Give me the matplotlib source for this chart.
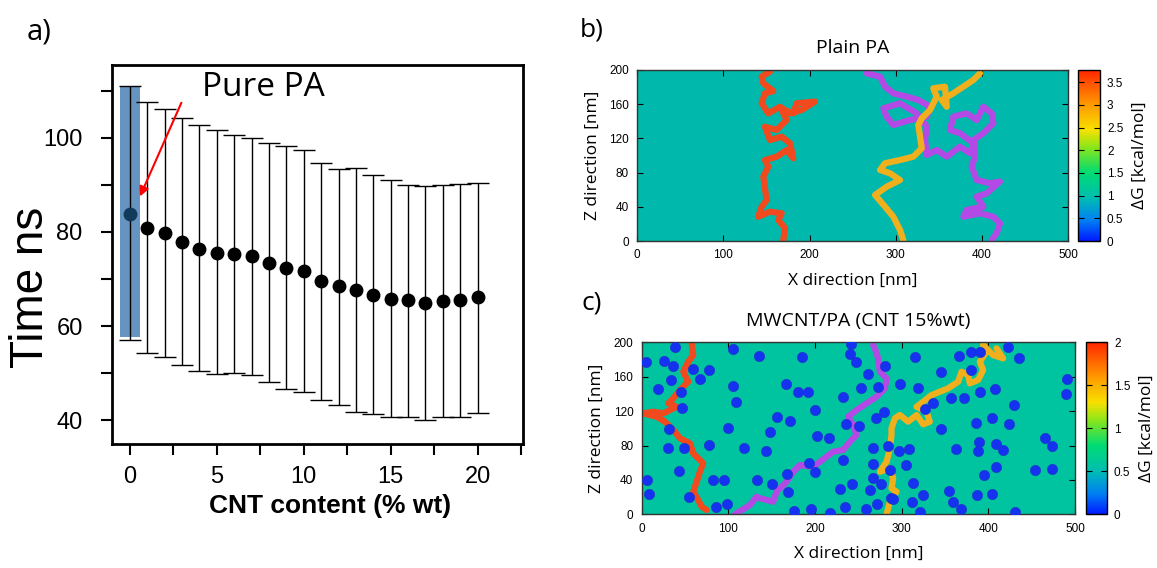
import matplotlib
matplotlib.use('Agg')
import matplotlib.pyplot as plt
import matplotlib.colors as mcolors
import matplotlib.cm as cm

# panel a data
cnt = list(range(0, 21))
time_mean = [83.9, 80.8, 79.7, 77.8, 76.4, 75.6, 75.3, 74.8, 73.5, 72.4, 71.8,
             69.6, 68.5, 67.7, 66.7, 65.8, 65.5, 65.0, 65.4, 65.6, 66.1]
time_upper = [111.1, 107.6, 106.1, 104.3, 102.8, 101.6, 100.7, 99.9, 99.0, 98.3, 97.4,
              94.7, 93.3, 93.6, 92.1, 91.0, 89.9, 89.8, 90.0, 90.1, 90.4]
time_lower = [57.1, 54.2, 53.5, 51.7, 50.4, 49.8, 50.0, 49.7, 48.1, 46.7, 46.0,
              44.2, 43.2, 41.8, 41.3, 40.6, 40.7, 40.0, 40.6, 40.7, 41.6]

# panel b paths (x nm, z nm)
b_red_x = [169.5, 171.5, 163.7, 167.6, 154, 140.5, 144.4, 150.2, 148.2, 146.3, 152.1, 148.2,
           161.8, 173.4, 181.1, 177.3, 167.6, 154, 148.2, 161.8, 173.4, 167.6, 181.1, 185,
           206.3, 190.8, 177.3, 165.7, 152.1, 144.4, 148.2, 157.9, 146.3, 144.4, 154]
b_red_z = [1.2, 14.9, 24.6, 32.4, 34.3, 28.4, 40.1, 47.9, 61.6, 75.2, 86.9, 94.7,
           98.6, 106.4, 96.7, 114.3, 122, 118.1, 133.7, 129.8, 141.5, 153.2, 149.3, 161,
           163, 153.2, 149.3, 157, 149.3, 161, 172.7, 175.4, 184.4, 192.2, 198]
b_yel_x = [308.8, 305, 297.2, 287.6, 276, 289.5, 305, 293.4, 281.8, 287.6, 305, 320.4,
           330.2, 328.2, 326.2, 330.2, 339.8, 347.6, 343.6, 357.2, 359.2, 353.4, 366.8,
           378.5, 390.1, 397.8]
b_yel_z = [1.2, 12.9, 28.4, 40.1, 53.8, 63.5, 71.3, 79.2, 83, 90.9, 94.7, 98.6,
           108.4, 122, 135.7, 143.5, 153.2, 168.8, 178.6, 180.5, 157, 164.9, 172.7,
           180.5, 188.3, 196.1]
b_pur_x = [266.3, 281.8, 287.6, 297.2, 312.7, 326.2, 339.8, 336, 316.6, 297.2, 289.5, 285.6,
           305, 324.4, 336, 334, 336, 347.6, 359.2, 374.6, 386.2, 390.1, 374.6, 363, 366.8,
           382.4, 394, 401.7, 411.4, 413.3, 401.7, 390.1, 392, 388.2, 394, 409.4, 421,
           405.6, 394, 401.7, 382.4, 378.5, 397.8, 413.3, 421, 417.2, 411.4]
b_pur_z = [196.1, 192.2, 180.5, 172.7, 168.8, 164.9, 157, 145.4, 141.5, 135.7, 145.4, 155.2,
           161, 149.3, 133.7, 118.1, 100.6, 106.4, 98.6, 110.3, 102.6, 114.3, 126, 129.8, 145.4,
           149.3, 141.5, 157, 149.3, 137.7, 126, 118.1, 98.6, 86.9, 71.3, 67.5, 69.4,
           55.8, 51.8, 40.1, 36.3, 28.4, 32.4, 28.4, 20.7, 9, 1.2]

# panel c paths
c_red_x = [75, 69.2, 65.3, 59.5, 63.4, 67.2, 71, 59.5, 55.7, 44.2, 38.4, 26.9, 17.3, 1.8,
           13.4, 24.9, 40.4, 30.7, 36.4, 44.2, 53.7, 48, 53.7, 59.5, 57.7]
c_red_z = [5, 8.8, 16.6, 26.3, 37.9, 49.5, 59.3, 70.9, 82.6, 88.4, 96, 107.7, 113.5, 117.4,
           119.3, 117.4, 125.1, 129.1, 134.9, 144.5, 154.2, 165.8, 177.4, 185.2, 198.8]
c_pur_x = [107.6, 124.9, 132.6, 136.4, 151.8, 155.7, 167.2, 174.9, 182.6, 197.9, 208.3, 221,
           232.5, 240.3, 248, 244, 238.3, 248, 259.5, 271, 280.6, 282.6, 274.9, 272.9, 269.1, 267.1]
c_pur_z = [0, 10.8, 20.5, 18.6, 14.7, 26.3, 37.9, 49.5, 57.3, 55.3, 63.1, 72.8,
           74.8, 84.4, 92.2, 103.8, 113.5, 121.3, 129.1, 136.7, 146.5, 158.1, 165.8, 181.4, 193, 196.9]
c_yel_x = [282.6, 286.4, 294.1, 288.3, 290.2, 286.4, 274.9, 282.6, 286.4, 288.3, 288.3, 292.2,
           297.9, 307.5, 317.2, 324.8, 332.5, 328.7, 317.2, 324.8, 334.5, 344.1, 353.6, 365.2,
           369.1, 376.7, 378.7, 388.2, 394, 390.2, 397.9, 394, 405.5, 417.1, 409.5]
c_yel_z = [0, 14.7, 26.3, 30.2, 41.9, 53.5, 49.5, 61.2, 76.7, 92.2, 100, 111.6,
           115.5, 107.7, 115.5, 104.7, 107.7, 119.3, 125.1, 130.9, 138.7, 142.6, 146.5, 154.2,
           165.8, 162, 152.3, 156.2, 167.8, 177.4, 189.1, 196.9, 185.2, 181.4, 193]

# CNT positions in panel c
cnt_x = [38.4, 4.6, 26.1, 36.5, 59.6, 78, 33.4, 67.3, 18.8, 45, 46.1, 31.1, 30, 48.8, 77.3,
         43, 6.5, 82.2, 94.9, 8.8, 54.9, 85.7, 98.8, 105, 105.7, 108.8, 99.5, 118, 135, 132.6,
         184.5, 241, 240.3, 247.2, 281, 166.1, 180.6, 192.2, 261.4, 252.6, 272.9, 232.2, 199.5,
         156.4, 171, 279.5, 270.2, 235.6, 251, 148, 202.2, 216.4, 143.4, 267.1, 284, 232.5,
         193.3, 267.1, 168, 200.2, 267.1, 150.3, 229.1, 242.9, 263.3, 276, 168.7, 287.2, 271,
         176, 194.9, 216.8, 234.5, 258.7, 286,
         315.2, 366, 379.5, 390.5, 422.8, 435.5, 344.9, 379.5, 297.9, 318.7, 390.2, 407.2,
         356.7, 372.5, 335.6, 327.1, 429.4, 404, 385.6, 423.6, 345.2, 389.4, 408.7, 362.9,
         387.9, 416.4, 297.1, 308, 304.5, 395.2, 408.7, 313.3, 354.4, 404.4, 386.7, 290.2,
         312.1, 324.8, 359.4, 368.3, 321, 430.9,
         490.9, 489.7, 465.5, 474, 454.4, 473.6]
cnt_z = [194.2, 177.5, 178.3, 172.4, 169, 168.1, 156.5, 157, 145.7, 141.9, 123.3, 99.2, 76.7,
         77.4, 81, 50.3, 39.9, 39.9, 39.9, 23.2, 20.5, 8.1, 12.3, 192.2, 149.5, 130.9, 100.7,
         77.4, 183.7, 39.5,
         182.9, 197.7, 186.4, 176.7, 172.4, 151.2, 141.9, 142.6, 163.5, 147.2, 147.6, 136.7,
         120.9, 112.8, 108.5, 118.9, 111.6, 105.3, 103, 96, 91.4, 88.7, 73.6, 77.1, 79.4, 62.8,
         59.7, 58.1, 46.9, 49.2, 42.6, 35.6, 29.4, 34.9, 28.6, 34.9, 25.6, 18.6, 11.6,
         4.2, 5.8, 1.5, 8.1, 6.2, 51.5,
         182.9, 184.1, 188.4, 189.1, 194.9, 182.1, 165.8, 168.1, 151.5, 147.2, 141.9, 145.3,
         134.9, 135.6, 129, 122.4, 126.7, 112, 106.2, 104.6, 99.5, 84.4, 81.4, 75.6,
         73.3, 74.4, 73.6, 75.6, 57, 45.3, 54.7, 36.7, 27.1, 23.6, 22.4, 18.4,
         14.7, 22.4, 13.8, 5.8, 3, 3,
         157.7, 140.2, 89.1, 79.4, 51.2, 52.7]

dg_cmap = mcolors.LinearSegmentedColormap.from_list('dg', [
    (0.0, (0.0, 0.1, 1.0)), (0.12, (0.0, 0.5, 0.95)), (0.25, (0.0, 0.74, 0.70)),
    (0.40, (0.0, 0.86, 0.45)), (0.55, (0.55, 0.9, 0.1)), (0.65, (0.97, 0.88, 0.0)),
    (0.80, (1.0, 0.6, 0.0)), (1.0, (1.0, 0.15, 0.0))])

fig = plt.figure(figsize=(11.57, 5.68), dpi=100)

# ---- panel a
ax = fig.add_axes([0.0967, 0.2180, 0.3557, 0.6669])
ax.bar(0, time_upper[0] - 57.6, bottom=57.6, width=1.12, color='#5589bb', alpha=0.9, zorder=1)
yerr = [[m - l for m, l in zip(time_mean, time_lower)], [u - m for m, u in zip(time_mean, time_upper)]]
ax.errorbar(cnt, time_mean, yerr=yerr, fmt='none', ecolor='black', elinewidth=1.0,
            capsize=8, capthick=1.0, zorder=2)
ax.plot(cnt[1:], time_mean[1:], 'o', color='black', ms=9, zorder=3)
ax.plot(cnt[0], time_mean[0], 'o', color='#123a5a', ms=9, zorder=3)
ax.set_xlim(-1.03, 22.63)
ax.set_ylim(34.9, 115.4)
ax.set_xticks([0, 5, 10, 15, 20])
ax.set_xticks([2.5, 7.5, 12.5, 17.5, 22.5], minor=True)
ax.set_yticks([40, 60, 80, 100])
ax.set_yticks([50, 70, 90, 110], minor=True)
ax.tick_params(which='both', direction='out', length=8, width=1.5, labelsize=17,
               top=False, right=False)
ax.tick_params(axis='y', which='major', pad=13)
ax.tick_params(axis='x', which='major', pad=8)
for lab in ax.get_xticklabels() + ax.get_yticklabels():
    lab.set_family('Liberation Sans')
for s in ax.spines.values():
    s.set_linewidth(2.0)
ax.annotate('', xy=(0.52, 87.0), xytext=(3.03, 108.0),
            arrowprops=dict(arrowstyle='-|>', color='red', lw=1.5, mutation_scale=14))
ax.text(7.66, 110.6, 'Pure PA', fontsize=24, family='Open Sans', ha='center', va='center')
fig.text(0.0268, 0.494, 'Time ns', rotation=90, fontsize=33, family='Liberation Sans',
         ha='center', va='center')
fig.text(0.2857, 0.1088, 'CNT content (% wt)', fontsize=19, fontweight='bold',
         family='Liberation Sans', ha='center', va='center')
fig.text(0.034, 0.943, 'a)', fontsize=21, family='Open Sans', ha='center', va='center')


def map_panel(rect, cbrect, title, vmax, cbticks, bg, paths):
    axm = fig.add_axes(rect)
    axm.set_facecolor(bg)
    for px, pz, col in paths:
        axm.plot(px, pz, color=col, lw=4.5, solid_joinstyle='round', solid_capstyle='round')
    axm.set_xlim(0, 500)
    axm.set_ylim(0, 200)
    axm.set_xticks([0, 100, 200, 300, 400, 500])
    axm.set_yticks([0, 40, 80, 120, 160, 200])
    axm.tick_params(direction='in', top=True, right=True, length=4, labelsize=8.5, pad=6)
    for lab in axm.get_xticklabels() + axm.get_yticklabels():
        lab.set_family('Liberation Sans')
    for s in axm.spines.values():
        s.set_linewidth(1.0)
        s.set_color('#333333')
    axm.set_xlabel('X direction [nm]', fontsize=12.5, family='Open Sans', labelpad=8)
    axm.set_ylabel('Z direction [nm]', fontsize=12.5, family='Open Sans', labelpad=6)
    axm.set_title(title, fontsize=14, family='Open Sans', pad=12)
    cax = fig.add_axes(cbrect)
    sm = cm.ScalarMappable(norm=mcolors.Normalize(0, vmax), cmap=dg_cmap)
    cb = fig.colorbar(sm, cax=cax)
    cb.set_ticks(cbticks)
    cb.set_ticklabels(['%g' % t for t in cbticks])
    cb.outline.set_linewidth(1.0)
    cax.tick_params(direction='in', length=4, labelsize=8.5, pad=5)
    cax.yaxis.set_ticks_position('both')
    cax.yaxis.set_label_position('right')
    cax.tick_params(labelleft=False, labelright=True)
    for lab in cax.get_yticklabels():
        lab.set_family('Liberation Sans')
    cb.set_label('\u0394G [kcal/mol]', fontsize=12.5, family='Open Sans', labelpad=6)
    return axm


axb = map_panel([0.5508, 0.5757, 0.3723, 0.3011], [0.9320, 0.5757, 0.01876, 0.3011],
                'Plain PA', 3.77, [0, 0.5, 1, 1.5, 2, 2.5, 3, 3.5], '#00b9ac',
                [(b_red_x, b_red_z, '#f04a1e'), (b_pur_x, b_pur_z, '#b44ae6'),
                 (b_yel_x, b_yel_z, '#f0b01e')])
fig.text(0.5115, 0.947, 'b)', fontsize=19, family='Open Sans', ha='center', va='center')

axc = map_panel([0.5546, 0.0945, 0.3745, 0.3028], [0.9384, 0.0945, 0.0184, 0.3028],
                'MWCNT/PA (CNT 15%wt)', 2, [0, 0.5, 1, 1.5, 2], '#00c4a0',
                [(c_red_x, c_red_z, '#f04a1e'), (c_pur_x, c_pur_z, '#b44ae6'),
                 (c_yel_x, c_yel_z, '#f0b01e')])
axc.scatter(cnt_x, cnt_z, s=55, color='#1432f0', edgecolors='#2030c0', linewidths=0.4,
            zorder=3, clip_on=True)
fig.text(0.5115, 0.466, 'c)', fontsize=19, family='Open Sans', ha='center', va='center')

fig.savefig('out.png', dpi=100)
